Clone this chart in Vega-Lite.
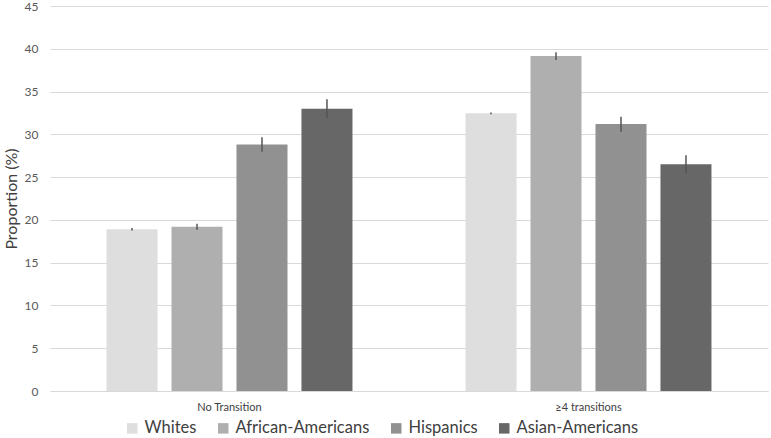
{
  "$schema": "https://vega.github.io/schema/vega-lite/v6.json",
  "width": 718,
  "height": 385,
  "autosize": "none",
  "padding": {"left": 50, "top": 6, "right": 3, "bottom": 47},
  "background": "white",
  "config": {"view": {"stroke": null}, "font": "Lato"},
  "data": {
    "values": [
      {"group": "No Transition", "race": "Whites", "value": 18.9, "lo": 18.75, "hi": 19.05},
      {"group": "No Transition", "race": "African-Americans", "value": 19.2, "lo": 18.85, "hi": 19.55},
      {"group": "No Transition", "race": "Hispanics", "value": 28.8, "lo": 27.95, "hi": 29.65},
      {"group": "No Transition", "race": "Asian-Americans", "value": 33.0, "lo": 31.9, "hi": 34.1},
      {"group": "≥4 transitions", "race": "Whites", "value": 32.45, "lo": 32.35, "hi": 32.55},
      {"group": "≥4 transitions", "race": "African-Americans", "value": 39.15, "lo": 38.7, "hi": 39.6},
      {"group": "≥4 transitions", "race": "Hispanics", "value": 31.2, "lo": 30.3, "hi": 32.05},
      {"group": "≥4 transitions", "race": "Asian-Americans", "value": 26.5, "lo": 25.45, "hi": 27.55}
    ]
  },
  "encoding": {
    "x": {
      "field": "group", "type": "nominal",
      "sort": ["No Transition", "≥4 transitions"],
      "scale": {"paddingInner": 0, "paddingOuter": 0},
      "axis": {"title": null, "labelAngle": 0, "ticks": false, "domainColor": "#d9d9d9", "labelColor": "#404040", "labelFontSize": 11, "labelPadding": 10}
    },
    "xOffset": {
      "field": "race", "type": "nominal",
      "sort": ["Whites", "African-Americans", "Hispanics", "Asian-Americans"],
      "scale": {"paddingInner": 0.215, "paddingOuter": 0.87}
    }
  },
  "layer": [
    {
      "mark": {"type": "bar"},
      "encoding": {
        "y": {
          "field": "value", "type": "quantitative",
          "scale": {"domain": [0, 45], "nice": false},
          "axis": {"title": "Proportion (%)", "values": [0,5,10,15,20,25,30,35,40,45], "ticks": false, "domain": false, "gridColor": "#d9d9d9", "labelColor": "#595959", "labelFontSize": 12, "labelPadding": 12, "titleFontSize": 16, "titleFontWeight": "normal", "titleColor": "#404040", "titlePadding": 5}
        },
        "color": {
          "field": "race", "type": "nominal",
          "sort": ["Whites", "African-Americans", "Hispanics", "Asian-Americans"],
          "scale": {"domain": ["Whites", "African-Americans", "Hispanics", "Asian-Americans"], "range": ["#dedede", "#afafaf", "#919191", "#676767"]},
          "legend": {"title": null, "orient": "none", "direction": "horizontal", "legendX": 74, "legendY": 414, "symbolType": "square", "symbolSize": 110, "symbolStrokeWidth": 0, "labelFontSize": 16.5, "labelColor": "#404040", "columnPadding": 18, "labelOffset": 4}
        }
      }
    },
    {
      "mark": {"type": "rule", "color": "#555555", "strokeWidth": 1.5},
      "encoding": {
        "y": {"field": "lo", "type": "quantitative"},
        "y2": {"field": "hi"}
      }
    }
  ]
}
